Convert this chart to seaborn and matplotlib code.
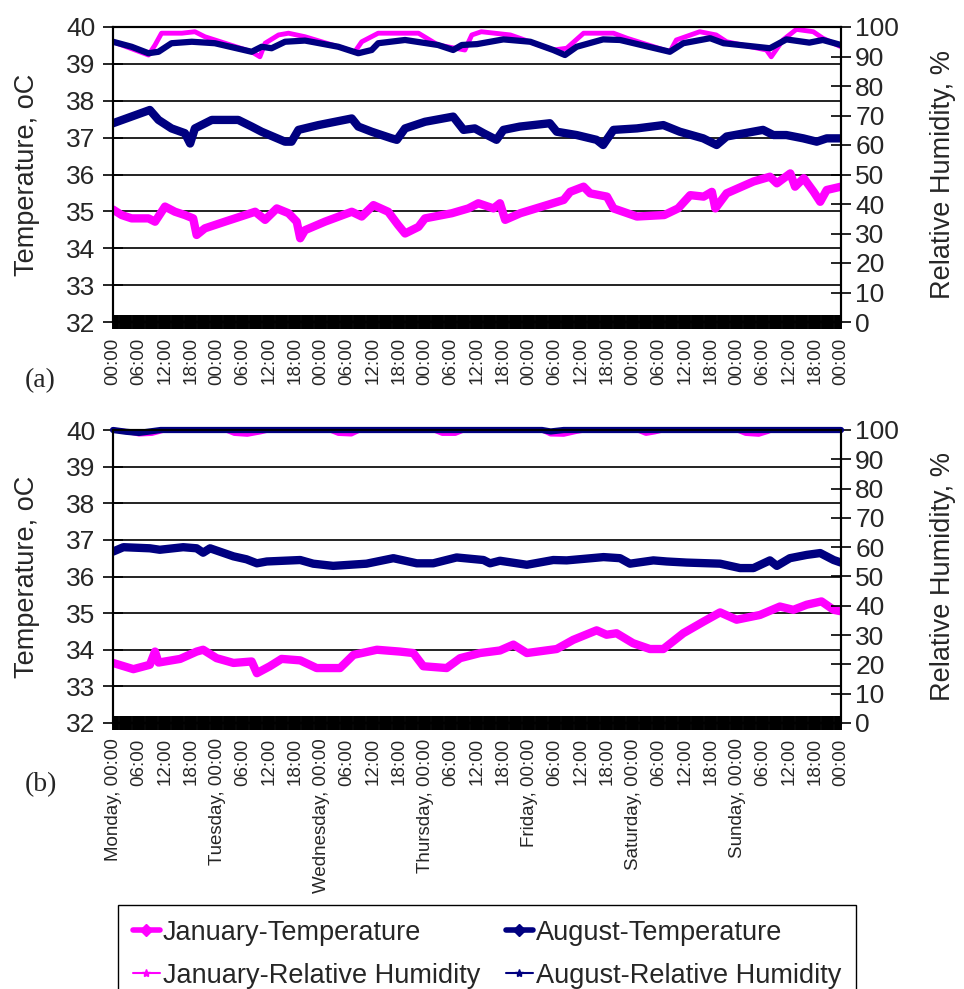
import matplotlib
matplotlib.use("Agg")
import matplotlib.pyplot as plt
import numpy as np
import pandas as pd
import seaborn as sns
from matplotlib.lines import Line2D
from matplotlib.ticker import MultipleLocator

# ---------------- data (hours from Monday 00:00) ----------------
# Panel (a)
JAN_T_A_HOURS = [0, 2, 4.3, 8.2, 9.7, 12, 14.3, 16.6, 18.5, 19.3, 21.2, 25.8, 30.5, 32.8, 35.1,
                 37.8, 40.5, 42.4, 43.2, 44.3, 48.9, 55.1, 57.4, 60.1, 63.5, 65.8, 67.4, 70.5, 72,
                 78.2, 82, 84.3, 87.8, 89.3, 90.5, 94, 104, 105.5, 108.6, 110.1, 114, 115.5, 120.9,
                 127.2, 130.4, 133.2, 136.3, 138.2, 139, 141.6, 147.8, 151.6, 153.2, 156.3, 157.4,
                 159.4, 161.7, 163.2, 164.7, 168]
JAN_T_A = [35.05, 34.9, 34.81, 34.81, 34.72, 35.13, 34.99, 34.9, 34.81, 34.36, 34.54, 34.72, 34.9,
           34.99, 34.77, 35.08, 34.95, 34.72, 34.27, 34.49, 34.72, 34.99, 34.86, 35.17, 34.99, 34.63,
           34.4, 34.58, 34.81, 34.95, 35.08, 35.22, 35.08, 35.22, 34.77, 34.95, 35.31, 35.53, 35.67,
           35.49, 35.4, 35.08, 34.86, 34.9, 35.08, 35.44, 35.4, 35.53, 35.08, 35.49, 35.81, 35.94,
           35.76, 36.03, 35.67, 35.9, 35.53, 35.26, 35.58, 35.67]

AUG_T_A_HOURS = [0, 8.5, 10.5, 13.5, 16.6, 17.8, 18.9, 22.8, 28.9, 32, 34.3, 39.7, 41.2, 42.8, 47.4,
                 55.1, 56.6, 59.7, 64.3, 65.5, 67.4, 72, 78.5, 80.9, 83.5, 85.5, 88.5, 90.1, 93.9,
                 100.8, 102.4, 107, 111.6, 113.1, 115.5, 120.9, 127, 130.8, 136.2, 139.3, 141.6,
                 150, 152.4, 155.4, 159.3, 162.4, 164.7, 168]
AUG_T_A = [37.39, 37.75, 37.48, 37.25, 37.12, 36.84, 37.25, 37.48, 37.48, 37.3, 37.16, 36.89, 36.89,
           37.21, 37.34, 37.52, 37.3, 37.16, 36.98, 36.94, 37.25, 37.43, 37.57, 37.21, 37.25, 37.12,
           36.94, 37.21, 37.3, 37.39, 37.16, 37.07, 36.94, 36.8, 37.21, 37.25, 37.34, 37.16, 36.98,
           36.8, 37.03, 37.21, 37.07, 37.07, 36.98, 36.89, 36.98, 36.98]

JAN_RH_A_HOURS = [0, 8.2, 9.7, 11.2, 15.9, 18.9, 21.2, 32, 33.9, 35.1, 38.2, 40.5, 44.3, 52, 55.8,
                  57.4, 61.2, 70.5, 75, 81.2, 82.8, 85, 91.7, 101.6, 104.7, 108.6, 115.5, 118.6,
                  128.5, 130, 135.4, 139.2, 141.6, 150.8, 151.9, 154.6, 157.7, 161.6, 163.8, 168]
JAN_RH_A = [95.0, 90.5, 93.9, 97.9, 97.9, 98.4, 96.7, 91.6, 89.9, 94.5, 97.3, 97.9, 96.7, 93.3, 91.6,
            95.0, 97.9, 97.9, 93.9, 92.2, 97.3, 98.4, 97.3, 92.2, 92.8, 97.9, 97.9, 96.2, 91.6, 95.6,
            98.4, 97.3, 95.0, 92.2, 89.9, 95.6, 99.2, 98.4, 96.2, 93.3]

AUG_RH_A_HOURS = [0, 4.3, 8.2, 10.5, 13.5, 18.2, 23.5, 32, 34.3, 36.6, 39.7, 44.3, 52, 56.6, 59.7,
                  61.2, 67.4, 75, 78.5, 80.5, 84, 90.1, 96.3, 101.6, 104.3, 107, 113.1, 117, 128.5,
                  131.6, 137.8, 140.9, 151.6, 155.4, 160.7, 163.8, 168]
AUG_RH_A = [95.0, 93.3, 91.1, 91.6, 94.5, 95.0, 94.5, 91.6, 93.3, 92.8, 95.0, 95.4, 93.3, 91.1, 92.2,
            94.5, 95.6, 93.9, 92.2, 93.9, 94.2, 95.8, 95.0, 92.2, 90.5, 93.3, 95.8, 95.6, 91.6, 94.5,
            96.2, 94.5, 92.8, 95.8, 94.7, 95.6, 93.9]

# Panel (b)
JAN_T_B_HOURS = [0, 4.7, 8.5, 9.7, 10.5, 15.5, 19.3, 20.8, 23.9, 27.8, 32, 33.2, 36.2, 38.9, 43.2,
                 47, 52.4, 55.5, 60.9, 66.2, 69.3, 71.6, 77, 80.1, 84.7, 89.3, 92.4, 95.5, 102.4,
                 106.2, 111.6, 113.9, 116.2, 120, 123.9, 127, 131.6, 136.3, 140.1, 143.9, 149.3,
                 153.9, 157, 160.1, 163.5, 166.3, 168]
JAN_T_B = [33.64, 33.47, 33.59, 33.95, 33.65, 33.75, 33.95, 34.0, 33.77, 33.64, 33.68, 33.36, 33.55,
           33.75, 33.71, 33.5, 33.5, 33.86, 34.0, 33.95, 33.91, 33.55, 33.5, 33.77, 33.91, 33.98,
           34.14, 33.91, 34.02, 34.27, 34.53, 34.41, 34.45, 34.18, 34.02, 34.02, 34.45, 34.77, 35.02,
           34.82, 34.95, 35.18, 35.09, 35.23, 35.32, 35.09, 35.05]

AUG_T_B_HOURS = [0, 2.4, 8.5, 10.8, 16.2, 19.3, 20.8, 22.4, 27.8, 30.8, 33.2, 35.5, 43.2, 46.2, 50.8,
                 58.5, 64.7, 70.1, 73.9, 79.3, 85.5, 87, 89.3, 95.5, 101.6, 104.7, 113.2, 117, 119.3,
                 124.7, 127.8, 132.4, 140.1, 144.7, 147.8, 151.6, 153.2, 156.2, 160.1, 163.2, 166.3, 168]
AUG_T_B = [36.68, 36.8, 36.77, 36.73, 36.8, 36.77, 36.65, 36.77, 36.55, 36.47, 36.36, 36.41, 36.45,
           36.35, 36.29, 36.35, 36.5, 36.36, 36.36, 36.52, 36.45, 36.36, 36.43, 36.32, 36.45, 36.44,
           36.53, 36.5, 36.35, 36.44, 36.41, 36.38, 36.35, 36.23, 36.23, 36.44, 36.29, 36.5, 36.59,
           36.64, 36.45, 36.38]

JAN_RH_B_HOURS = [0, 3, 6, 9, 12, 26, 28, 31, 34, 36, 50, 52, 55, 57, 74, 76, 79, 81, 99, 101, 104,
                  107, 109, 121, 123, 125, 127, 144, 146, 149, 151, 152, 168]
JAN_RH_B = [100, 99.5, 98.6, 98.8, 100, 100, 98.8, 98.5, 99.3, 100, 100, 98.8, 98.6, 100, 100, 98.8,
            98.8, 100, 100, 98.6, 98.5, 99.5, 100, 100, 98.8, 99.3, 100, 100, 98.8, 98.5, 99.4, 100, 100]

AUG_RH_B_HOURS = [0, 3, 6, 9, 11, 99, 101, 104, 168]
AUG_RH_B = [100, 99.4, 99.0, 99.6, 100, 100, 99.5, 100, 100]

# axis labels / categories
TICK_HOURS = list(range(0, 169, 6))
TIME_LABELS = ["00:00", "06:00", "12:00", "18:00"] * 7 + ["00:00"]
DAYS = ["Monday", "Tuesday", "Wednesday", "Thursday", "Friday", "Saturday", "Sunday"]
LABELS_B = [f"{DAYS[i // 4]}, {t}" if (i % 4 == 0 and i < 28) else t
            for i, t in enumerate(TIME_LABELS)]
SERIES_NAMES = ["January-Temperature", "August-Temperature",
                "January-Relative Humidity", "August-Relative Humidity"]

# ---------------- styling ----------------
sns.set_style("white")
plt.rcParams['font.family'] = ['Liberation Sans', 'DejaVu Sans']
MAGENTA = "#FF00FF"
NAVY = "#000080"

fig = plt.figure(figsize=(9.64, 9.89), dpi=100)
axA = fig.add_axes([113 / 964, 1 - 322 / 989, 728 / 964, 295 / 989])
axB = fig.add_axes([113 / 964, 1 - 723 / 989, 728 / 964, 293 / 989])


def frame(h, v):
    return pd.DataFrame({"hour": h, "value": v})


def draw_panel(ax, jt, at, jr, ar, xlabels, rh_clip=True):
    sns.lineplot(data=frame(*jt), x="hour", y="value", ax=ax, color=MAGENTA,
                 linewidth=6, estimator=None, solid_joinstyle="round", solid_capstyle="round")
    sns.lineplot(data=frame(*at), x="hour", y="value", ax=ax, color=NAVY,
                 linewidth=6, estimator=None, solid_joinstyle="round", solid_capstyle="round")
    ax.set_xlim(0, 168)
    ax.set_ylim(32, 40)
    ax.set_yticks(range(32, 41))
    ax.yaxis.grid(True, color="#111111", linewidth=1.3)
    ax.xaxis.grid(False)
    ax.set_axisbelow(True)
    ax.set_xticks(TICK_HOURS)
    ax.set_xticklabels(xlabels, rotation=90, fontsize=13.5)
    ax.xaxis.set_minor_locator(MultipleLocator(0.25))
    ax.tick_params(axis="x", which="both", direction="inout", length=10, width=1.4,
                   color="black", bottom=True, pad=6)
    ax.tick_params(axis="y", direction="inout", length=14.4, width=1.2, color="black",
                   left=True, labelsize=19, pad=5.5)
    ax.set_xlabel("")
    ax.set_ylabel("Temperature, oC", fontsize=19.5)
    ax.yaxis.set_label_coords(-0.1, 0.5)

    ax2 = ax.twinx()
    sns.lineplot(data=frame(*jr), x="hour", y="value", ax=ax2, color=MAGENTA,
                 linewidth=3.5, estimator=None, clip_on=rh_clip, solid_joinstyle="round")
    sns.lineplot(data=frame(*ar), x="hour", y="value", ax=ax2, color=NAVY,
                 linewidth=4.5, estimator=None, clip_on=rh_clip, solid_joinstyle="round")
    ax2.set_ylim(0, 100)
    ax2.set_xlim(0, 168)
    ax2.set_yticks(range(0, 101, 10))
    ax2.tick_params(axis="y", direction="inout", length=14.4, width=1.2, color="black",
                    right=True, labelsize=19, pad=3)
    ax2.grid(False)
    ax2.set_ylabel("Relative Humidity, %", fontsize=19.5)
    ax2.yaxis.set_label_coords(1.122, 0.5)
    for a in (ax, ax2):
        for s in a.spines.values():
            s.set_color("black")
            s.set_linewidth(1.5)
    return ax2


draw_panel(axA, (JAN_T_A_HOURS, JAN_T_A), (AUG_T_A_HOURS, AUG_T_A),
           (JAN_RH_A_HOURS, JAN_RH_A), (AUG_RH_A_HOURS, AUG_RH_A), TIME_LABELS)
draw_panel(axB, (JAN_T_B_HOURS, JAN_T_B), (AUG_T_B_HOURS, AUG_T_B),
           (JAN_RH_B_HOURS, JAN_RH_B), (AUG_RH_B_HOURS, AUG_RH_B), LABELS_B, rh_clip=False)

fig.text(25 / 964, 1 - 381 / 989, "(a)", family=["Liberation Serif", "DejaVu Serif"],
         fontsize=20, va="center", ha="left")
fig.text(25 / 964, 1 - 785 / 989, "(b)", family=["Liberation Serif", "DejaVu Serif"],
         fontsize=20, va="center", ha="left")

handles = [
    Line2D([], [], color=MAGENTA, lw=4, marker="D", markersize=6),
    Line2D([], [], color=MAGENTA, lw=1.5, marker="*", markersize=6),
    Line2D([], [], color=NAVY, lw=4, marker="D", markersize=6),
    Line2D([], [], color=NAVY, lw=1.5, marker="*", markersize=6),
]
labels = [SERIES_NAMES[0], SERIES_NAMES[2], SERIES_NAMES[1], SERIES_NAMES[3]]
leg = fig.legend(handles, labels, ncol=2, loc="upper left",
                 bbox_to_anchor=(118 / 964, 1 - 905 / 989), frameon=True, fancybox=False,
                 edgecolor="black", framealpha=1, fontsize=19.5, handlelength=1.0,
                 handletextpad=0.1, columnspacing=0.95, borderpad=0.55, labelspacing=0.62,
                 borderaxespad=0)
leg.get_frame().set_linewidth(1.0)

fig.savefig("out.png", dpi=100, facecolor="white")
